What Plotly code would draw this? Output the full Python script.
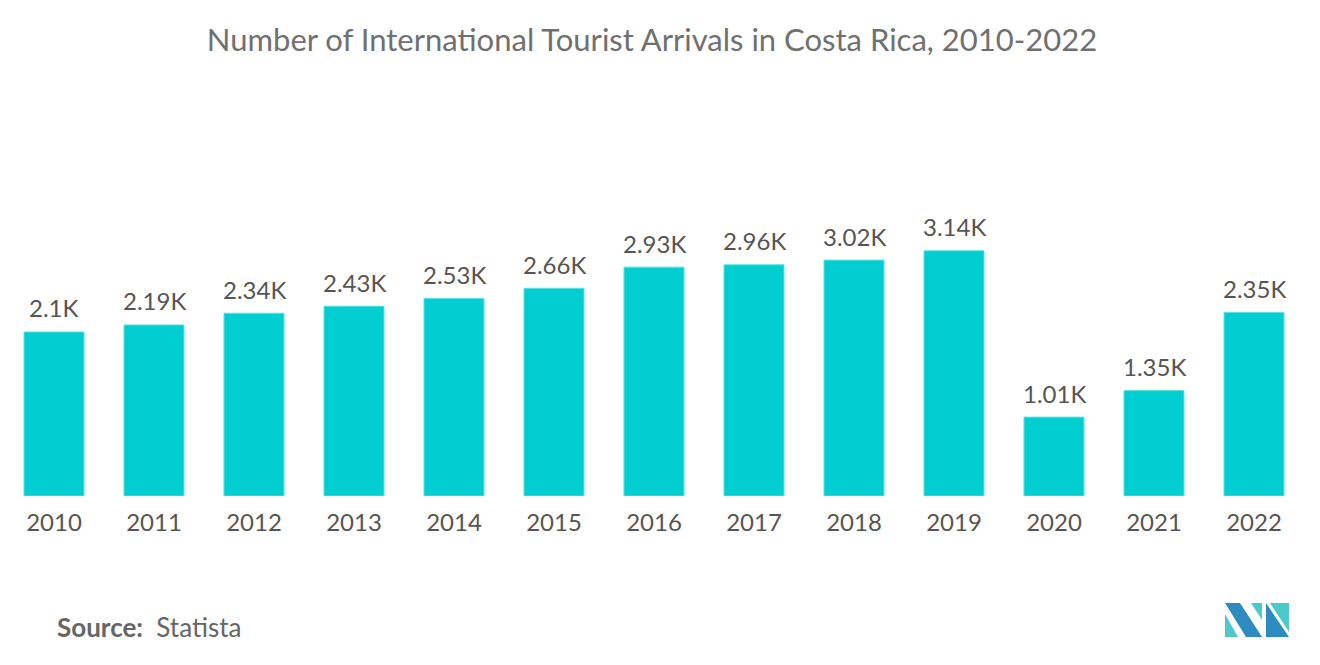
import plotly.graph_objects as go

years = ["2010", "2011", "2012", "2013", "2014", "2015", "2016", "2017", "2018", "2019", "2020", "2021", "2022"]
arrivals_k = [2.10, 2.19, 2.34, 2.43, 2.53, 2.66, 2.93, 2.96, 3.02, 3.14, 1.01, 1.35, 2.35]
labels = [f"{v:g}K" for v in arrivals_k]

title_text = "Number of International Tourist Arrivals in Costa Rica, 2010-2022"
FONT = "Lato, 'Open Sans', sans-serif"

# The page body adds an 8px offset; the figure is sized so it fits the window.
W, H = 1312, 657
L, R, T, B = 0, 16, 92, 169
pw = W - L - R
ph = H - T - B

fig = go.Figure(go.Bar(
    x=years, y=arrivals_k,
    marker=dict(color="#00CED1", line=dict(color="#5fe0e2", width=1)),
    cliponaxis=False,
))

annotations = []
for i, (v, lab) in enumerate(zip(arrivals_k, labels)):
    annotations.append(dict(x=i, y=v, xref="x", yref="y", text=lab, showarrow=False,
                            yanchor="middle", yshift=24,
                            font=dict(size=24, color="#555555", family=FONT)))


def px_to_paper(x, y):
    # page pixel coordinates -> paper coordinates
    x -= 8
    y -= 8
    return (x - L) / pw, (H - B - y) / ph


sx, sy = px_to_paper(55, 627)
annotations.append(dict(text="<b>Source:</b>  Statista", x=sx, y=sy, xref="paper", yref="paper",
                        showarrow=False, xanchor="left", yanchor="middle",
                        font=dict(size=26, color="#666666", family=FONT)))

fig.update_layout(
    width=W, height=H,
    paper_bgcolor="white", plot_bgcolor="white",
    margin=dict(l=L, r=R, t=T, b=B),
    bargap=0.4,
    showlegend=False,
    title=dict(text=title_text, x=644 / W, xanchor="center", y=1 - 32 / H, yanchor="middle",
               font=dict(size=31, color="#707070", family=FONT)),
    xaxis=dict(type="category", showgrid=False, showline=False, zeroline=False, range=[-0.46, 12.5],
               ticks="outside", ticklen=5, tickcolor="rgba(0,0,0,0)",
               tickfont=dict(size=24, color="#555555", family=FONT)),
    yaxis=dict(visible=False, range=[0, 5.07], showgrid=False, zeroline=False),
    annotations=annotations,
)


def path(points):
    pts = [px_to_paper(x, y) for x, y in points]
    return "M " + " L ".join(f"{a},{b}" for a, b in pts) + " Z"


logo = [
    ([(1225, 614), (1225, 637), (1238, 637)], "#4CC9C9"),
    ([(1225, 603), (1240, 603), (1262, 637), (1246, 637)], "#2E8BC0"),
    ([(1251, 603), (1262, 603), (1262, 620)], "#4CC9C9"),
    ([(1266, 603), (1266, 637), (1289, 637)], "#2E8BC0"),
    ([(1270, 603), (1289, 603), (1289, 632)], "#4CC9C9"),
]
for pts, col in logo:
    fig.add_shape(type="path", path=path(pts), xref="paper", yref="paper",
                  fillcolor=col, line=dict(width=0))

fig.write_html("out.html")
